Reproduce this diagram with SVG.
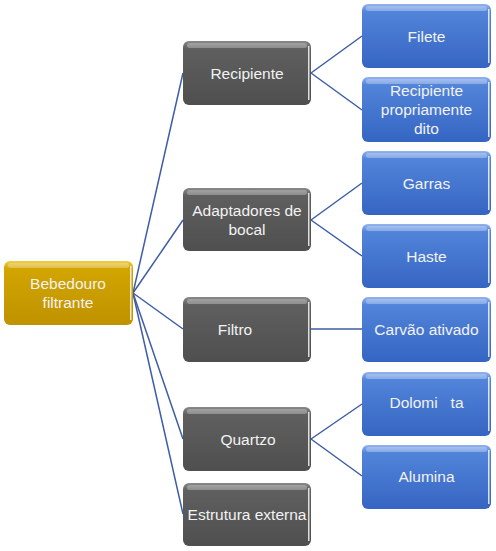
<svg xmlns="http://www.w3.org/2000/svg" width="496" height="551" viewBox="0 0 496 551">
<style>
.t{font-family:"Liberation Sans","Noto Sans",Arial,sans-serif;font-size:15.5px;fill:#f2f2f2;text-anchor:middle;dominant-baseline:central}
.c{stroke:#3d5da6;stroke-width:1.5;fill:none}
.hl{fill:#ffffff;opacity:0.28}
.rh{fill:#ffffff;opacity:0.8}
</style>
<defs>
<linearGradient id="gG" x1="0" y1="0" x2="0" y2="1">
<stop offset="0" stop-color="#8a8a8a"/><stop offset="0.12" stop-color="#5f5f5f"/><stop offset="1" stop-color="#4f4f4f"/>
</linearGradient>
<linearGradient id="gB" x1="0" y1="0" x2="0" y2="1">
<stop offset="0" stop-color="#93b4ee"/><stop offset="0.12" stop-color="#5284da"/><stop offset="1" stop-color="#3565c2"/>
</linearGradient>
<linearGradient id="gY" x1="0" y1="0" x2="0" y2="1">
<stop offset="0" stop-color="#f0cf4a"/><stop offset="0.12" stop-color="#d2a500"/><stop offset="1" stop-color="#bf9200"/>
</linearGradient>
</defs>
<g id="connectors">
<path class="c" d="M133 293 L183 73"/>
<path class="c" d="M133 293 L183 220"/>
<path class="c" d="M133 293 L183 329"/>
<path class="c" d="M133 293 L183 439"/>
<path class="c" d="M133 293 L183 514"/>
<path class="c" d="M311 73 L362 36"/>
<path class="c" d="M311 73 L362 110"/>
<path class="c" d="M311 220 L362 183"/>
<path class="c" d="M311 220 L362 256"/>
<path class="c" d="M311 329 L362 329"/>
<path class="c" d="M311 439 L362 404"/>
<path class="c" d="M311 439 L362 476"/>
</g>
<g id="root">
<rect x="4" y="261" width="129" height="64" rx="6" fill="url(#gY)"/>
<rect x="8" y="263" width="121" height="5" rx="2.5" class="hl"/>
<rect x="130" y="266" width="1.5" height="54" class="rh"/>
<text class="t" x="68" y="283">Bebedouro</text>
<text class="t" x="68" y="302">filtrante</text>
</g>
<g id="n-recipiente">
<rect x="183" y="41" width="128" height="64" rx="6" fill="url(#gG)"/>
<rect x="187" y="43" width="120" height="5" rx="2.5" class="hl"/>
<rect x="308" y="46" width="1.5" height="54" class="rh"/>
<text class="t" x="247" y="73">Recipiente</text>
</g>
<g id="n-adaptadores">
<rect x="183" y="188" width="128" height="63" rx="6" fill="url(#gG)"/>
<rect x="187" y="190" width="120" height="5" rx="2.5" class="hl"/>
<rect x="308" y="193" width="1.5" height="53" class="rh"/>
<text class="t" x="247" y="210">Adaptadores de</text>
<text class="t" x="247" y="229">bocal</text>
</g>
<g id="n-filtro">
<rect x="183" y="297" width="128" height="65" rx="6" fill="url(#gG)"/>
<rect x="187" y="299" width="120" height="5" rx="2.5" class="hl"/>
<rect x="308" y="302" width="1.5" height="55" class="rh"/>
<text class="t" x="235" y="329">Filtro</text>
</g>
<g id="n-quartzo">
<rect x="183" y="407" width="128" height="64" rx="6" fill="url(#gG)"/>
<rect x="187" y="409" width="120" height="5" rx="2.5" class="hl"/>
<rect x="308" y="412" width="1.5" height="54" class="rh"/>
<text class="t" x="248" y="439">Quartzo</text>
</g>
<g id="n-estrutura">
<rect x="183" y="483" width="128" height="63" rx="6" fill="url(#gG)"/>
<rect x="187" y="485" width="120" height="5" rx="2.5" class="hl"/>
<rect x="308" y="488" width="1.5" height="53" class="rh"/>
<text class="t" x="247" y="514">Estrutura externa</text>
</g>
<g id="n-filete">
<rect x="362" y="4" width="129" height="64" rx="6" fill="url(#gB)"/>
<rect x="366" y="6" width="121" height="5" rx="2.5" class="hl"/>
<rect x="488" y="9" width="1.5" height="54" class="rh"/>
<text class="t" x="426.5" y="36">Filete</text>
</g>
<g id="n-recprop">
<rect x="362" y="77" width="129" height="65" rx="6" fill="url(#gB)"/>
<rect x="366" y="79" width="121" height="5" rx="2.5" class="hl"/>
<rect x="488" y="82" width="1.5" height="55" class="rh"/>
<text class="t" x="426.5" y="90">Recipiente</text>
<text class="t" x="426.5" y="109">propriamente</text>
<text class="t" x="426.5" y="128">dito</text>
</g>
<g id="n-garras">
<rect x="362" y="151" width="129" height="64" rx="6" fill="url(#gB)"/>
<rect x="366" y="153" width="121" height="5" rx="2.5" class="hl"/>
<rect x="488" y="156" width="1.5" height="54" class="rh"/>
<text class="t" x="426.5" y="183">Garras</text>
</g>
<g id="n-haste">
<rect x="362" y="224" width="129" height="64" rx="6" fill="url(#gB)"/>
<rect x="366" y="226" width="121" height="5" rx="2.5" class="hl"/>
<rect x="488" y="229" width="1.5" height="54" class="rh"/>
<text class="t" x="426.5" y="256">Haste</text>
</g>
<g id="n-carvao">
<rect x="362" y="297" width="129" height="65" rx="6" fill="url(#gB)"/>
<rect x="366" y="299" width="121" height="5" rx="2.5" class="hl"/>
<rect x="488" y="302" width="1.5" height="55" class="rh"/>
<text class="t" x="426.5" y="329">Carvão ativado</text>
</g>
<g id="n-dolomita">
<rect x="362" y="372" width="129" height="64" rx="6" fill="url(#gB)"/>
<rect x="366" y="374" width="121" height="5" rx="2.5" class="hl"/>
<rect x="488" y="377" width="1.5" height="54" class="rh"/>
<text class="t" x="426.5" y="402" xml:space="preserve">Dolomi   ta</text>
</g>
<g id="n-alumina">
<rect x="362" y="445" width="129" height="64" rx="6" fill="url(#gB)"/>
<rect x="366" y="447" width="121" height="5" rx="2.5" class="hl"/>
<rect x="488" y="450" width="1.5" height="54" class="rh"/>
<text class="t" x="426.5" y="476">Alumina</text>
</g>
</svg>
